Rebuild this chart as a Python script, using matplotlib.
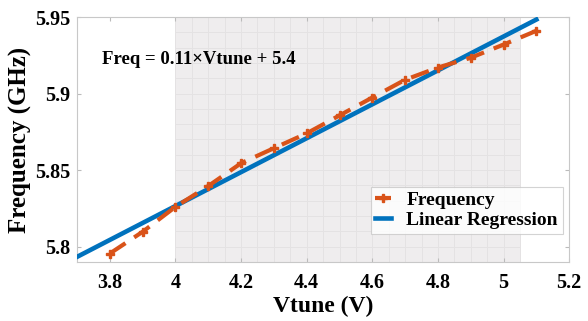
import numpy as np
import matplotlib
matplotlib.use("Agg")
import matplotlib.pyplot as plt

vtune = [3.8, 3.9, 4.0, 4.1, 4.2, 4.3, 4.4, 4.5, 4.6, 4.7, 4.8, 4.9, 5.0, 5.1]
freq = [5.7955, 5.8097, 5.826, 5.8396, 5.8545, 5.8643, 5.874, 5.8857,
        5.8974, 5.909, 5.917, 5.9234, 5.932, 5.941]
reg_range = [3.7, 5.1]
shade_range = [4.0, 5.05]
xticks = [3.8, 4.0, 4.2, 4.4, 4.6, 4.8, 5.0, 5.2]
xticklabels = ["3.8", "4", "4.2", "4.4", "4.6", "4.8", "5", "5.2"]
yticks = [5.8, 5.85, 5.9, 5.95]
yticklabels = ["5.8", "5.85", "5.9", "5.95"]

plt.rcParams['font.family'] = ['Liberation Serif', 'DejaVu Serif']
plt.rcParams['font.weight'] = 'bold'

fig = plt.figure(figsize=(5.88, 3.21), dpi=100)
ax = fig.add_axes([0.131, 0.184, 0.837, 0.763])

ax.set_xlim(3.7, 5.2)
ax.set_ylim(5.79, 5.95)

# shaded region with fine grid
ax.axvspan(shade_range[0], shade_range[1], color='#EFEDEE', zorder=0, lw=0)
for gx in np.arange(shade_range[0], shade_range[1] + 1e-9, 0.05):
    ax.vlines(gx, 5.79, 5.95, color='#E4E2E3', lw=0.7, zorder=0.5)
for gy in np.arange(5.79, 5.951, 0.01):
    ax.hlines(gy, shade_range[0], shade_range[1], color='#E4E2E3', lw=0.7, zorder=0.5)

# regression
coef = np.polyfit(vtune, freq, 1)
xr = np.array(reg_range)
ax.plot(xr, np.polyval(coef, xr), color='#0072BD', lw=3.3, zorder=3,
        label='Linear Regression')
ax.plot(vtune, freq, color='#D95319', lw=3, ls=(0, (4.5, 2.5)), marker='P',
        ms=6, mec='#D95319', mfc='#D95319', zorder=4, label='Frequency')

ax.text(3.776, 5.9225, 'Freq = 0.11×Vtune + 5.4', fontsize=13.5, fontweight='bold',
        va='center', ha='left')

ax.set_xticks(xticks)
ax.set_xticklabels(xticklabels)
ax.set_yticks(yticks)
ax.set_yticklabels(yticklabels)
ax.tick_params(direction='in', length=3, color='#BBBBBB', labelsize=14.5,
               top=True, right=True, pad=5)
ax.tick_params(axis='x', pad=8)
for lab in ax.get_xticklabels() + ax.get_yticklabels():
    lab.set_fontweight('bold')
for sp in ax.spines.values():
    sp.set_color('#C8C8C8')
    sp.set_linewidth(0.8)

ax.set_xlabel('Vtune (V)', fontsize=17, fontweight='bold', labelpad=2)
ax.set_ylabel('Frequency (GHz)', fontsize=18, fontweight='bold', labelpad=2)

h, l = ax.get_legend_handles_labels()
leg = ax.legend([h[1], h[0]], [l[1], l[0]], loc='lower right',
                bbox_to_anchor=(0.995, 0.10), fontsize=14, frameon=True,
                fancybox=False, edgecolor='#C8C8C8', handlelength=0.8,
                handletextpad=0.8, borderpad=0.25, labelspacing=0.1,
                borderaxespad=0.2)
leg.get_frame().set_linewidth(0.8)
for t in leg.get_texts():
    t.set_fontweight('bold')

fig.savefig('out.png', dpi=100)
